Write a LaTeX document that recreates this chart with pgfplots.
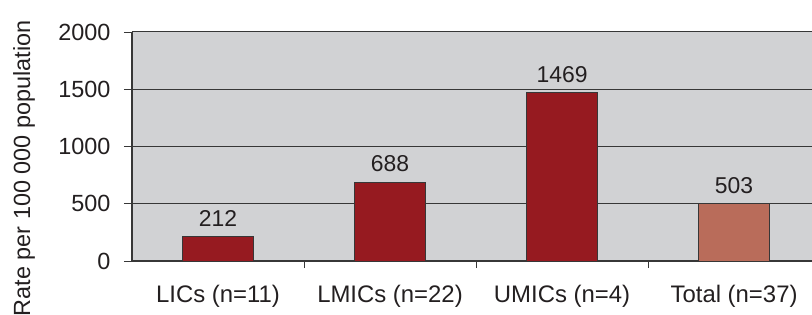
\documentclass[border=0pt]{standalone}
\usepackage{pgfplots}
\pgfplotsset{compat=1.18}
\usepackage{fontspec}
\setmainfont{Liberation Sans}
\definecolor{barred}{RGB}{150,26,32}
\definecolor{barlight}{RGB}{185,108,90}
\definecolor{bggray}{RGB}{209,210,212}
\definecolor{txt}{RGB}{35,31,32}
\definecolor{gridc}{RGB}{55,55,55}
\begin{document}
\begin{tikzpicture}
\begin{axis}[
  scale only axis,
  width=680bp, height=229bp,
  xmin=-0.5, xmax=3.453,
  ymin=0, ymax=2000,
  axis background/.style={fill=bggray},
  axis x line=bottom, axis y line=left,
  axis line style={-, gridc, line width=1.2bp},
  ytick={0,500,1000,1500,2000},
  ymajorgrids,
  major grid style={gridc, line width=1bp},
  tick style={gridc, line width=0.8bp},
  tick align=outside,
  xtick={0,1,2,3},
  xticklabels={LICs (n=11), LMICs (n=22), UMICs (n=4), Total (n=37)},
  major x tick style={draw=none},
  minor xtick={0.5,1.5,2.5},
  minor tick length=7bp,
  major tick length=8bp,
  /pgf/number format/assume math mode=true,
  /pgf/number format/set thousands separator={},
  yticklabel style={font=\fontsize{23.5}{27}\selectfont, text=txt, xshift=-10bp},
  xticklabel style={font=\fontsize{24}{28}\selectfont, text=txt, yshift=-13bp},
  ylabel={Rate per 100 000 population},
  every axis y label/.style={at={(rel axis cs:0,0.405)}, xshift=-108bp, rotate=90, anchor=center, font=\fontsize{23.5}{27}\selectfont, text=txt},
  clip=false,
]
\addplot[ybar, bar width=71bp, fill=barred, draw=gridc, line width=0.6bp,
  nodes near coords, every node near coord/.append style={font=\fontsize{23}{27}\selectfont, text=txt, yshift=6.5bp}]
  coordinates {(0,212) (1,688) (2,1469)};
\addplot[ybar, bar width=71bp, fill=barlight, draw=gridc, line width=0.6bp,
  nodes near coords, every node near coord/.append style={font=\fontsize{23}{27}\selectfont, text=txt, yshift=6.5bp}]
  coordinates {(3,503)};
\end{axis}
\pgfresetboundingbox
\path (-132bp,-54bp) rectangle (680bp,261bp);
\end{tikzpicture}
\end{document}
